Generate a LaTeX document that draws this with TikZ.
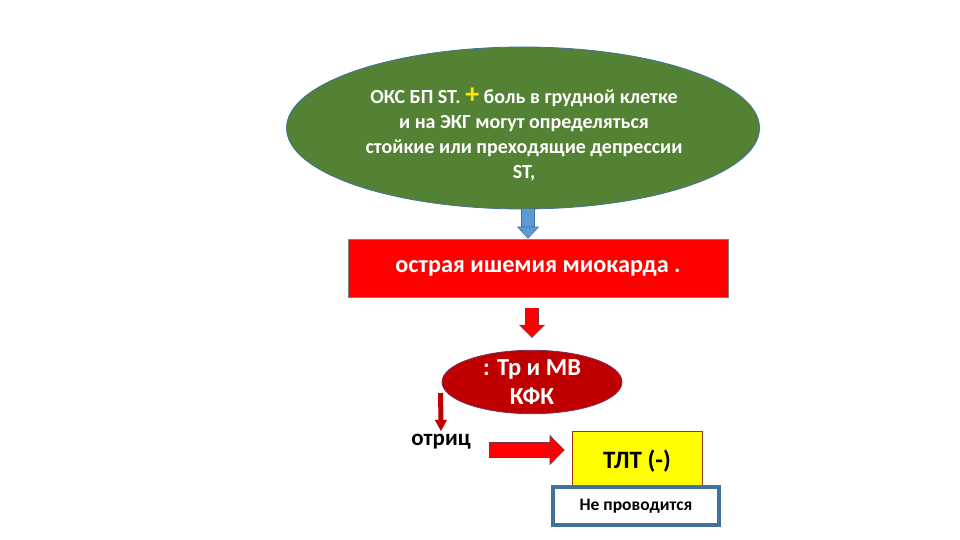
\documentclass[tikz,border=0pt]{standalone}
\usepackage{fontspec}
\setmainfont{Carlito}
\usepackage{xcolor}
\usetikzlibrary{shapes.geometric,arrows.meta,calc}
\definecolor{okgreen}{HTML}{548235}
\definecolor{okblue}{HTML}{5B9BD5}
\definecolor{okbluedark}{HTML}{41719C}
\definecolor{okred}{HTML}{FF0000}
\definecolor{okdarkred}{HTML}{C00000}
\definecolor{okyellow}{HTML}{FFFF00}
\definecolor{okplus}{HTML}{FFE600}
\definecolor{okbrown}{HTML}{9C3A1A}
\definecolor{okpurple}{HTML}{7A3050}

\begin{document}
\begin{tikzpicture}[x=1pt,y=-1pt,
	bigoval/.style={ellipse,draw=okbluedark,line width=0.8pt,fill=okgreen,inner sep=0pt},
	ovaltext/.style={text=white,align=center,font=\bfseries\fontsize{20}{25}\selectfont},
	redbox/.style={draw=gray,line width=0.6pt,fill=okred,text=white,font=\bfseries\fontsize{24.2}{28}\selectfont},
	smalloval/.style={ellipse,draw=okpurple,line width=0.8pt,fill=okdarkred,text=white,inner sep=0pt,align=center,
		font=\bfseries\fontsize{24.5}{29}\selectfont},
	yellowbox/.style={draw=okbrown,line width=0.6pt,fill=okyellow,text depth=0pt,font=\bfseries\fontsize{25}{28}\selectfont},
	notebox/.style={draw=okbluedark,line width=3.5pt,fill=white,font=\bfseries\fontsize{17.5}{20}\selectfont},
	bluearr/.style={draw=okbluedark,double=okblue,double distance=12pt,line width=0.6pt,
		-{Triangle[width=22pt,length=12pt,line width=0.6pt,fill=okblue,color=okbluedark]}},
	redarr/.style={draw=okpurple,double=okred,double distance=12pt,line width=0.6pt,
		-{Triangle[width=26pt,length=13pt,line width=0.6pt,fill=okred,color=okpurple]}},
	sidearr/.style={draw=okpurple,double=okred,double distance=14pt,line width=0.6pt,
		-{Triangle[width=30pt,length=15pt,line width=0.6pt,fill=okred,color=okpurple]}},
	thinarr/.style={draw=okdarkred,line width=5pt,
		-{Triangle[width=12pt,length=11pt,line width=0.4pt,fill=okdarkred,color=okdarkred]}}]
	\fill[white] (0,0) rectangle (960,540);
	\useasboundingbox (0,0) rectangle (960,540);
	\node[bigoval,minimum width=473pt,minimum height=162pt] (acs) at (523,128) {};
	\node[ovaltext] (acstext) at ($(acs.center)+(1,7)$)
		{ОКС БП ST. {\color{okplus}\fontsize{28}{25}\selectfont +} боль в грудной клетке\\ и на ЭКГ могут определяться\\ стойкие или преходящие депрессии\\ ST,};
	\node[redbox,minimum width=380pt,minimum height=58pt] (ischemia) at (538,268) {острая ишемия миокарда .};
	\node[smalloval,minimum width=180pt,minimum height=60pt] (markers) at (532,382) {: Тр и МВ\\ КФК};
	\node[font=\bfseries\fontsize{23}{26}\selectfont] (negative) at (441,442) {отриц};
	\node[yellowbox,minimum width=130pt,minimum height=56pt] (tlt) at (637,459) {ТЛТ (-)};
	\node[notebox,minimum width=166pt,minimum height=38pt] (notdone) at (636,506) {Не проводится};
	\draw[bluearr] ([xshift=5pt]acs.south) -- ([xshift=-10pt]ischemia.north);
	\draw[redarr,shorten <=11pt,shorten >=12pt] ([xshift=-6pt]ischemia.south) -- (markers.north);
	\draw[thinarr] ($(markers.west)+(-1,11)$) -- (negative.north);
	\draw[sidearr] ($(negative.east)+(15,8)$) -- ($(tlt.west)+(-7,-9)$);
\end{tikzpicture}
\end{document}
